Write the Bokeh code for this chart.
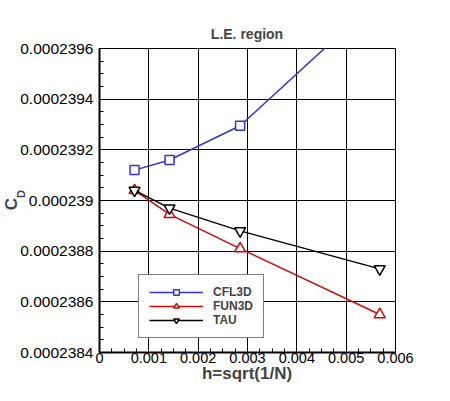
import numpy as np
from bokeh.plotting import figure
from bokeh.models import (FixedTicker, CustomJSTickFormatter, Legend, LegendItem,
                          Label, Range1d)
from bokeh.embed import file_html
from bokeh.resources import INLINE

# grid spacing h = sqrt(1/N)
h = [0.00071, 0.00142, 0.00285, 0.00568]

cd_cfl3d = [0.00023912, 0.00023916, 0.000239295, 0.0002398]
cd_fun3d = [0.00023904, 0.000238945, 0.00023881, 0.00023855]
cd_tau = [0.00023904, 0.00023897, 0.00023888, 0.00023873]

x_ticks = [0, 0.001, 0.002, 0.003, 0.004, 0.005, 0.006]
y_ticks = [0.0002384, 0.0002386, 0.0002388, 0.000239, 0.0002392, 0.0002394, 0.0002396]

FONT = "Liberation Sans"

p = figure(width=434, height=385, output_backend="svg", toolbar_location=None,
           x_range=Range1d(0, 0.006), y_range=Range1d(0.0002384, 0.0002396),
           min_border_left=99, min_border_right=39, min_border_top=48,
           min_border_bottom=33)

p.outline_line_color = "black"
p.outline_line_width = 1

x_minor = list(np.arange(0, 0.00601, 0.00025))
y_minor = list(np.arange(0.0002384, 0.00023961, 0.00000005))
p.xaxis.ticker = FixedTicker(ticks=x_ticks, minor_ticks=x_minor)
p.yaxis.ticker = FixedTicker(ticks=y_ticks, minor_ticks=y_minor)
p.xaxis.formatter = CustomJSTickFormatter(code="return parseFloat(tick.toFixed(4)).toString();")
p.yaxis.formatter = CustomJSTickFormatter(code="return parseFloat(tick.toFixed(8)).toString();")

for ax in (p.xaxis, p.yaxis):
    ax.axis_line_width = 2
    ax.axis_line_color = "black"
    ax.major_tick_in = 8
    ax.major_tick_out = 0
    ax.minor_tick_in = 4
    ax.minor_tick_out = 0
    ax.major_tick_line_color = "black"
    ax.minor_tick_line_color = "black"
    ax.major_label_text_font = FONT
    ax.major_label_text_color = "black"
p.yaxis.major_label_text_font_size = "15.5px"
p.xaxis.major_label_text_font_size = "14.5px"
p.xaxis.major_label_standoff = 0
p.yaxis.major_label_standoff = 6

p.grid.grid_line_color = "black"
p.grid.grid_line_alpha = 1
p.grid.grid_line_width = 1

blue = "#3333d8"
red = "#cc0a0a"

l1 = p.line(h, cd_cfl3d, color=blue, line_width=1.5)
m1 = p.scatter(h, cd_cfl3d, marker="square", size=9, line_color=blue,
               fill_color="white", line_width=1.5)
l2 = p.line(h, cd_fun3d, color=red, line_width=1.5)
m2 = p.scatter(h, cd_fun3d, marker="triangle", size=11, line_color=red,
               fill_color="white", line_width=1.5)
l3 = p.line(h, cd_tau, color="black", line_width=1.5)
m3 = p.scatter(h, cd_tau, marker="inverted_triangle", size=11, line_color="black",
               fill_color="white", line_width=1.5)

legend = Legend(items=[
    LegendItem(label="CFL3D", renderers=[l1, m1]),
    LegendItem(label="FUN3D", renderers=[l2, m2]),
    LegendItem(label="TAU", renderers=[l3, m3]),
], location=(39, 14))
legend.glyph_width = 54
legend.glyph_height = 14
legend.label_height = 14
legend.label_standoff = 10
legend.spacing = 0
legend.padding = 10
legend.margin = 0
legend.border_line_color = "black"
legend.border_line_width = 1
legend.label_text_font = FONT
legend.label_text_font_size = "12px"
legend.label_text_font_style = "bold"
legend.background_fill_alpha = 1
p.add_layout(legend, "center")

# titles: kept in side panels with spare room (so they are not clipped
# to the frame) and positioned in data units outside the frame
p.add_layout(Label(x=0.00299, y=0.0002396553, text="L.E. region",
                   text_font=FONT, text_font_size="14px", text_font_style="bold",
                   text_align="center", text_baseline="middle"), "above")
p.add_layout(Label(x=0.00299, y=0.0002383171, text="h=sqrt(1/N)",
                   text_font=FONT, text_font_size="17px", text_font_style="bold",
                   text_align="center", text_baseline="middle"), "above")
p.add_layout(Label(x=-0.001774, y=0.00023898618, text="C", angle=np.pi / 2,
                   text_font=FONT, text_font_size="17px", text_font_style="bold",
                   text_align="center", text_baseline="middle"), "right")
p.add_layout(Label(x=-0.001601, y=0.00023902566, text="D", angle=np.pi / 2,
                   text_font=FONT, text_font_size="11px", text_font_style="bold",
                   text_align="center", text_baseline="middle"), "right")

open("out.html", "w").write(file_html(p, INLINE))
